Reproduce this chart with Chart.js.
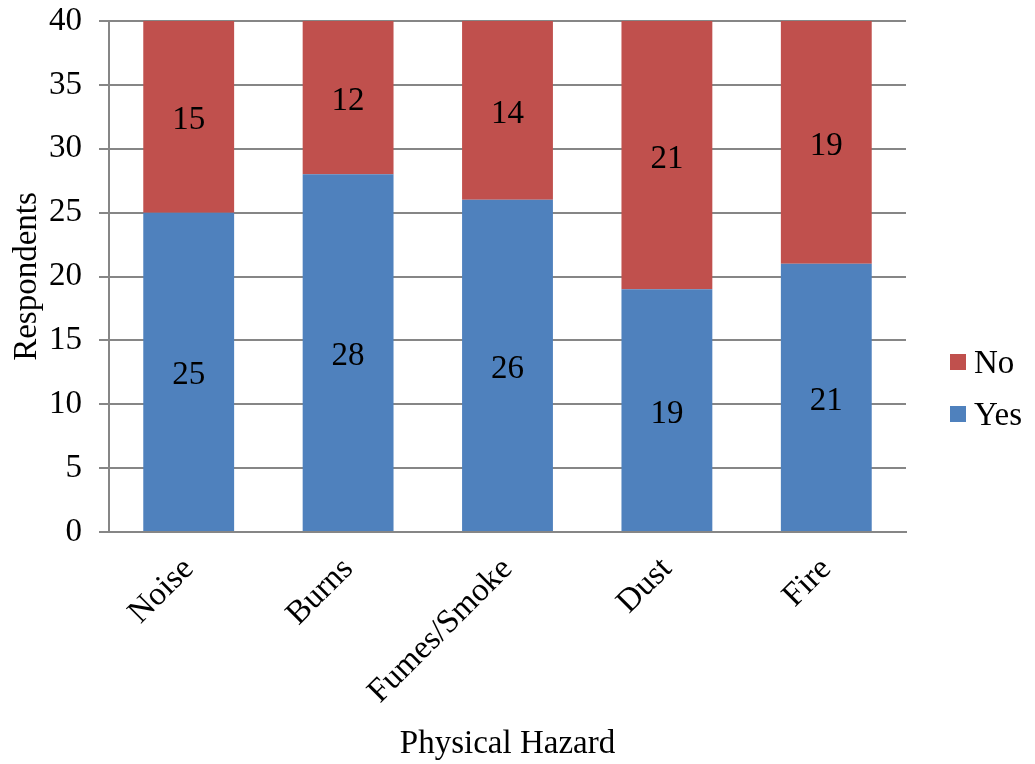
<!DOCTYPE html>
<html>
<head>
<meta charset="utf-8">
<script src="https://cdn.jsdelivr.net/npm/chart.js@4/dist/chart.umd.min.js"></script>
<style>
  html, body { margin: 0; padding: 0; background: #fff; }
  #wrap { width: 1035px; height: 764px; }
</style>
</head>
<body>
<div id="wrap"><canvas id="c" width="1035" height="764"></canvas></div>
<script>
// Physical hazard survey: respondents answering Yes / No
const hazards = ['Noise', 'Burns', 'Fumes/Smoke', 'Dust', 'Fire'];
const yesCounts = [25, 28, 26, 19, 21];
const noCounts = [15, 12, 14, 21, 19];
const seriesNames = ['Yes', 'No'];

const FONT = 'Liberation Serif, "Times New Roman", serif';
const FS = 33;
const GRID = '#868686';
const BLUE = '#4F81BD';
const RED = '#C0504D';

// Value labels in the middle of every bar segment
const segmentLabels = {
  id: 'segmentLabels',
  afterDatasetsDraw(chart) {
    const ctx = chart.ctx;
    ctx.save();
    ctx.font = FS + 'px ' + FONT;
    ctx.fillStyle = '#000';
    ctx.textAlign = 'center';
    ctx.textBaseline = 'middle';
    chart.data.datasets.forEach((ds, i) => {
      chart.getDatasetMeta(i).data.forEach((bar, j) => {
        const p = bar.getProps(['x', 'y', 'base'], true);
        ctx.fillText(String(ds.data[j]), p.x, (p.y + p.base) / 2 + 4);
      });
    });
    ctx.restore();
  }
};

// Vertical legend to the right of the plot, listed top series first
const sideLegend = {
  id: 'sideLegend',
  afterDraw(chart) {
    const ctx = chart.ctx;
    const area = chart.chartArea;
    const x = area.right + 44;
    const items = chart.data.datasets.slice().reverse();
    const gap = 52;
    const y0 = chart.height / 2 + 6 - gap * (items.length - 1) / 2;
    ctx.save();
    ctx.font = FS + 'px ' + FONT;
    ctx.textBaseline = 'middle';
    ctx.textAlign = 'left';
    items.forEach((ds, k) => {
      const y = y0 + k * gap;
      ctx.fillStyle = ds.backgroundColor;
      ctx.fillRect(x, y - 8, 16, 16);
      ctx.fillStyle = '#000';
      ctx.fillText(ds.label, x + 24, y + 2);
    });
    ctx.restore();
  }
};

new Chart(document.getElementById('c'), {
  type: 'bar',
  data: {
    labels: hazards,
    datasets: [
      { label: seriesNames[0], data: yesCounts, backgroundColor: BLUE },
      { label: seriesNames[1], data: noCounts, backgroundColor: RED }
    ]
  },
  options: {
    responsive: false,
    animation: false,
    layout: { padding: { top: 21, right: 129, left: 0, bottom: 0 } },
    datasets: { bar: { categoryPercentage: 1, barPercentage: 0.57 } },
    plugins: { legend: { display: false }, tooltip: { enabled: false } },
    scales: {
      x: {
        stacked: true,
        grid: { display: false },
        border: { display: true, color: GRID, width: 2 },
        ticks: {
          color: '#000', font: { family: FONT, size: FS },
          minRotation: 45, maxRotation: 45, padding: 10
        },
        title: {
          display: true, text: 'Physical Hazard', color: '#000',
          font: { family: FONT, size: FS }, padding: { top: 0, bottom: 0 }
        },
        afterFit(scale) {
          scale.height = 232;
          scale.paddingLeft = 0;
          scale.paddingRight = 0;
        }
      },
      y: {
        stacked: true,
        min: 0, max: 40,
        ticks: {
          stepSize: 5, color: '#000', font: { family: FONT, size: FS }, padding: 17
        },
        grid: { color: GRID, lineWidth: 2, tickLength: 10, drawTicks: true },
        border: { display: true, color: GRID, width: 2 },
        title: {
          display: true, text: 'Respondents', color: '#000',
          font: { family: FONT, size: FS }, padding: { top: 8, bottom: 0 }
        },
        afterFit(scale) {
          scale.width = 109;
          scale.paddingTop = 0;
          scale.paddingBottom = 0;
        }
      }
    }
  },
  plugins: [segmentLabels, sideLegend]
});
</script>
</body>
</html>
